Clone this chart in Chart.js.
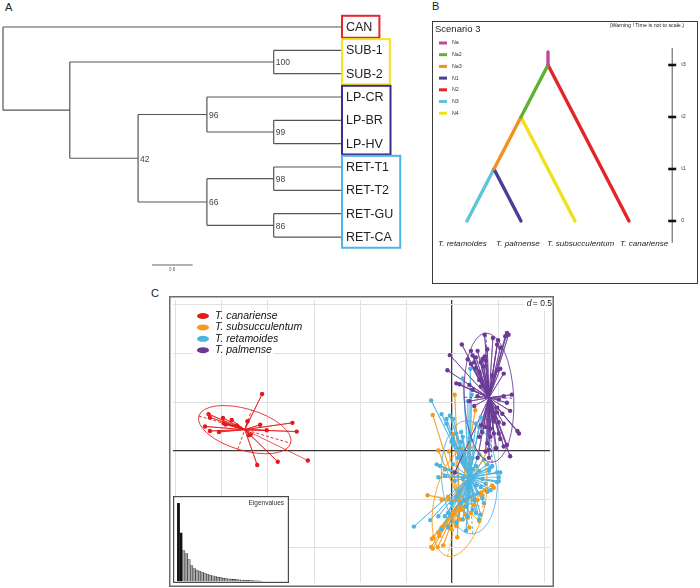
<!DOCTYPE html>
<html>
<head>
<meta charset="utf-8">
<title>Phylogeny, scenario 3 and DAPC</title>
<script src="https://cdn.jsdelivr.net/npm/chart.js@4.4.1/dist/chart.umd.min.js"></script>
<style>
	html, body { margin: 0; padding: 0; background: #fff; }
	body { position: relative; width: 700px; height: 588px; overflow: hidden; font-family: "Liberation Sans", Arial, sans-serif; }
	canvas { position: absolute; }
	.panel { position: absolute; font-size: 11px; line-height: 11px; color: #222; }
	#boxB { position: absolute; left: 432px; top: 21px; width: 264px; height: 261px; border: 1.5px solid #3a3a3a; }
</style>
</head>
<body>
<div class="panel" style="left:5px;top:2px">A</div>
<div class="panel" style="left:432px;top:1px">B</div>
<div class="panel" style="left:151px;top:288px">C</div>
<div id="boxB"></div>
<canvas id="tree-chart" width="420" height="290" style="left:0;top:0"></canvas>
<canvas id="scenario-chart" width="280" height="290" style="left:420px;top:0"></canvas>
<canvas id="dapc-chart" width="385" height="291" style="left:169px;top:296px"></canvas>
<canvas id="eigen-chart" width="116" height="87" style="left:173px;top:496px"></canvas>
<script>
// ---- A: tree ----
const leafNames = ['CAN', 'SUB-1', 'SUB-2', 'LP-CR', 'LP-BR', 'LP-HV', 'RET-T1', 'RET-T2', 'RET-GU', 'RET-CA'];
const leafDepth = 6.65;
const nodeIds = ['root', 'n1', 'nSub', 'n42', 'n96', 'n99', 'n66', 'n98', 'n86'];
const nodeDepths = [0, 1.31, 5.31, 2.65, 4.0, 5.31, 4.0, 5.31, 5.31];
const nodeChildren = [
	['CAN', 'n1'], ['nSub', 'n42'], ['SUB-1', 'SUB-2'], ['n96', 'n66'], ['LP-CR', 'n99'],
	['LP-BR', 'LP-HV'], ['n98', 'n86'], ['RET-T1', 'RET-T2'], ['RET-GU', 'RET-CA'],
];
const nodeSupport = ['', '', '100', '42', '96', '99', '66', '98', '86'];
const groupFirst = [0, 1, 3, 6];
const groupLast = [0, 2, 5, 9];
const groupColors = ['#e8242b', '#f3e41b', '#3d2b8e', '#4ab6e8'];
const scaleBar = 0.8;

// ---- B: scenario 3 ----
const branchNames = ['Na', 'Na2', 'Na3', 'N1', 'N2', 'N3', 'N4'];
const branchColors = ['#c1489b', '#5db232', '#f3901f', '#4a3c98', '#e42427', '#5dc4d9', '#f1e11b'];
const branchStart = [[1.5, 3.25], [1.5, 3], [1, 2], [0.5, 1], [1.5, 3], [0.5, 1], [1, 2]];
const branchEnd = [[1.5, 3], [1, 2], [0.5, 1], [1, 0], [3, 0], [0, 0], [2, 0]];
const speciesNames = ['T. retamoides', 'T. palmense', 'T. subsucculentum', 'T. canariense'];
const timeTicks = [0, 1, 2, 3];
const timeLabels = ['0', 't1', 't2', 't3'];

// ---- C: DAPC ----
const dapcNames = ['T. canariense', 'T. subsucculentum', 'T. retamoides', 'T. palmense'];
const dapcColors = ['#e31a1c', '#f59a1b', '#4bb4e2', '#6a3a96'];
const canariensePts = [
	[-2.064, 0.583], [-2.646, 0.377], [-2.631, 0.343], [-2.489, 0.337], [-2.394, 0.317], [-2.482, 0.283],
	[-2.461, 0.27], [-2.34, 0.26], [-2.223, 0.303], [-2.085, 0.267], [-1.734, 0.287], [-2.684, 0.25],
	[-2.631, 0.203], [-2.532, 0.193], [-2.014, 0.21], [-1.688, 0.197], [-2.205, 0.16], [-2.188, 0.167],
	[-2.117, -0.147], [-1.894, -0.113], [-1.567, -0.1],
];
const subsucculentumPts = [
	[0.029, 0.577], [0.252, 0.417], [-0.21, 0.367], [-0.149, 0.003], [-0.035, -0.007], [0.018, 0.17],
	[0.394, 0.017], [0.436, -0.357], [-0.266, -0.457], [-0.114, -0.507], [-0.043, -0.473], [0.454, -0.38],
	[0.365, -0.407], [0.312, -0.44], [0.277, -0.507], [0.241, -0.557], [0.205, -0.64], [0.295, -0.723],
	[0.17, -0.69], [0.082, -0.707], [0.046, -0.773], [0.056, -0.89], [-0.007, -0.807], [-0.114, -0.79],
	[-0.149, -0.84], [-0.202, -0.89], [-0.22, -0.907], [-0.227, -0.99], [-0.21, -1.007], [-0.156, -0.99],
	[-0.096, -0.973], [0.135, -0.573], [0.099, -0.607], [0.029, -0.64], [-0.007, -0.673], [-0.138, -0.873],
	[-0.043, -0.773], [0.188, -0.79], [0.152, -0.657], [0.33, -0.46],
];
const retamoidesPts = [
	[-0.227, 0.517], [-0.114, 0.377], [-0.061, 0.277], [-0.024, 0.36], [0.011, 0.327], [0.117, 0.743],
	[0.199, 0.843], [0.213, 0.577], [0.17, 0.51], [0.312, 0.343], [0.046, 0.177], [0.011, 0.127],
	[0.099, 0.093], [0.082, 0.027], [-0.167, -0.14], [-0.131, -0.157], [-0.078, -0.19], [-0.078, -0.257],
	[0.029, -0.307], [0.117, -0.29], [0.223, -0.19], [0.259, -0.157], [0.295, -0.207], [0.383, -0.14],
	[0.418, -0.173], [0.489, -0.223], [0.524, -0.223], [0.507, -0.313], [0.489, -0.323], [0.365, -0.34],
	[0.312, -0.373], [0.277, -0.44], [0.241, -0.507], [0.188, -0.473], [0.135, -0.507], [0.099, -0.54],
	[0.152, -0.573], [0.223, -0.607], [0.259, -0.64], [0.295, -0.707], [0.17, -0.673], [0.117, -0.707],
	[-0.043, -0.64], [-0.078, -0.673], [-0.149, -0.673], [-0.237, -0.713], [-0.415, -0.78], [-0.114, -0.807],
	[-0.043, -0.79], [0.046, -0.74], [0.152, -0.823], [0.33, -0.49], [0.348, -0.54], [0.383, -0.423],
	[0.418, -0.407], [0.33, -0.29], [0.259, -0.357], [0.188, -0.373], [0.082, -0.423], [0.046, -0.473],
	[-0.007, -0.54], [-0.149, -0.273], [0.011, -0.14], [0.064, -0.073], [0.135, -0.023], [0.223, -0.073],
	[0.295, -0.04], [0.348, -0.09], [0.312, -0.657], [-0.061, 0.327], [0.099, 0.193], [0.117, 0.143],
	[0.205, 0.11], [0.259, 0.277], [0.295, 0.243], [-0.007, 0.093], [0.011, 0.06], [0.401, -0.207],
	[0.436, -0.157], [0.507, -0.273],
];
const palmensePts = [
	[0.596, 1.21], [0.614, 1.193], [0.578, 1.177], [0.354, 1.193], [0.444, 1.16], [0.5, 1.137],
	[0.106, 1.093], [0.205, 1.027], [0.277, 1.027], [0.33, 0.943], [0.205, 0.893], [0.241, 0.91],
	[0.365, 0.927], [-0.024, 0.983], [-0.05, 0.827], [0.046, 0.693], [0.082, 0.683], [0.489, 0.827],
	[0.524, 0.843], [0.561, 0.793], [0.188, 0.677], [0.312, 0.66], [0.295, 0.727], [0.436, 0.777],
	[0.259, 0.96], [0.312, 0.91], [0.354, 0.97], [0.489, 1.093], [0.524, 1.06], [0.383, 1.043],
	[0.649, 0.577], [0.561, 0.56], [0.507, 0.527], [0.596, 0.493], [0.631, 0.41], [0.489, 0.393],
	[0.546, 0.38], [0.454, 0.3], [0.507, 0.293], [0.561, 0.277], [0.71, 0.203], [0.727, 0.177],
	[0.524, 0.12], [0.482, 0.027], [0.596, 0.06], [0.401, 0.01], [0.631, -0.057], [0.454, 0.177],
	[0.418, 0.227], [0.365, 0.243], [0.312, 0.26], [0.33, 0.193], [0.295, 0.143], [0.241, 0.46],
	[0.188, 0.51], [0.277, 0.56], [0.223, 0.627], [0.365, -0.007], [0.401, -0.073], [0.277, -0.073],
	[0.029, -0.223], [0.223, 0.98], [0.255, 0.85], [0.298, 0.81], [0.34, 0.87], [0.17, 0.94],
	[0.489, 0.443], [0.454, 0.343], [0.561, 0.043], [0.507, 0.177], [0.418, 0.143], [0.383, 0.077],
	[0.471, 0.027],
];
const dapcPoints = [canariensePts, subsucculentumPts, retamoidesPts, palmensePts];
const dapcCentroids = [[-2.252, 0.217], [0.082, -0.523], [0.188, -0.273], [0.401, 0.545]];
const dapcMajorEnds = [[-1.753, 0.077], [0.213, 0.04], [0.152, 0.31], [0.367, 1.21]];
const dapcMinorEnds = [[-2.177, 0.418], [-0.188, -0.468], [0.489, -0.31], [0.67, 0.54]];
const xGrid = [-3, -2.5, -2, -1.5, -1, -0.5, 0, 0.5, 1];
const yGrid = [-1, -0.5, 0, 0.5, 1, 1.5];
const eigenValues = [79, 49, 31, 28, 22, 16, 13, 11.5, 10.5, 9.5, 8.5, 7.5, 6.5, 5.8, 5, 4.4,
	3.9, 3.4, 3, 2.7, 2.4, 2.1, 1.9, 1.7, 1.5, 1.3, 1.15, 1.0, 0.85, 0.7, 0.55, 0.4];

const FONT = '"Liberation Sans", Arial, sans-serif';

function rgba(hex, a) {
	const n = parseInt(hex.slice(1), 16);
	return 'rgba(' + (n >> 16) + ',' + ((n >> 8) & 255) + ',' + (n & 255) + ',' + a + ')';
}

const baseOptions = {
	responsive: false,
	animation: false,
	devicePixelRatio: 1,
	events: [],
	layout: { padding: 0 },
	plugins: { legend: { display: false }, tooltip: { enabled: false } },
};

// ---------- A ----------
function isLeaf(id) { return leafNames.includes(id); }
function nodeY(id) {
	if (isLeaf(id)) return leafNames.indexOf(id);
	const kids = nodeChildren[nodeIds.indexOf(id)];
	return (nodeY(kids[0]) + nodeY(kids[kids.length - 1])) / 2;
}
function nodeX(id) { return isLeaf(id) ? leafDepth : nodeDepths[nodeIds.indexOf(id)]; }

const branchPoints = [];
nodeIds.forEach((id, i) => {
	const kids = nodeChildren[i];
	const x = nodeDepths[i];
	branchPoints.push({ x, y: nodeY(kids[0]) }, { x, y: nodeY(kids[kids.length - 1]) }, { x, y: null });
	kids.forEach(k => branchPoints.push({ x, y: nodeY(k) }, { x: nodeX(k), y: nodeY(k) }, { x, y: null }));
});

const treeLabels = {
	id: 'treeLabels',
	afterDatasetsDraw(chart) {
		const { ctx, scales: { x, y } } = chart;
		ctx.save();
		ctx.font = '12.5px ' + FONT;
		ctx.fillStyle = '#222';
		ctx.textAlign = 'left';
		ctx.textBaseline = 'middle';
		const lx = x.getPixelForValue(leafDepth);
		leafNames.forEach((n, i) => ctx.fillText(n, lx + 4, y.getPixelForValue(i) + 0.5));
		groupFirst.forEach((f, g) => {
			const w = Math.max(...leafNames.slice(f, groupLast[g] + 1).map(n => ctx.measureText(n).width));
			const top = y.getPixelForValue(f - 0.48);
			const bottom = y.getPixelForValue(groupLast[g] + 0.46);
			ctx.strokeStyle = groupColors[g];
			ctx.lineWidth = 2;
			ctx.strokeRect(lx, top, w + 11, bottom - top);
		});
		ctx.font = '8.5px ' + FONT;
		ctx.fillStyle = '#444';
		nodeIds.forEach((id, i) => {
			if (!nodeSupport[i]) return;
			ctx.fillText(nodeSupport[i], x.getPixelForValue(nodeDepths[i]) + 2, y.getPixelForValue(nodeY(id)) + 1);
		});
		ctx.font = '4.5px ' + FONT;
		ctx.textAlign = 'center';
		ctx.fillStyle = '#666';
		ctx.fillText(String(scaleBar), x.getPixelForValue(2.92 + scaleBar / 2), y.getPixelForValue(10.2) + 5);
		ctx.restore();
	}
};

new Chart(document.getElementById('tree-chart'), {
	type: 'line',
	data: {
		datasets: [
			{
				data: branchPoints,
				borderColor: '#555',
				borderWidth: 1.2,
				pointRadius: 0,
				spanGaps: false,
			},
			{
				data: [{ x: 2.92, y: 10.2 }, { x: 2.92 + scaleBar, y: 10.2 }],
				borderColor: '#999',
				borderWidth: 1.5,
				pointRadius: 0,
			},
		]
	},
	options: {
		...baseOptions,
		scales: {
			x: { type: 'linear', display: false, min: -0.0589, max: 8.18 },
			y: { type: 'linear', display: false, reverse: true, min: -1.157, max: 11.27 },
		}
	},
	plugins: [treeLabels]
});

// ---------- B ----------
const scenarioDecor = {
	id: 'scenarioDecor',
	afterDatasetsDraw(chart) {
		const { ctx, scales: { x, y } } = chart;
		ctx.save();
		ctx.fillStyle = '#222';
		ctx.textBaseline = 'middle';
		ctx.font = '9.5px ' + FONT;
		ctx.fillText('Scenario 3', 15, 29);
		ctx.font = '5.3px ' + FONT;
		ctx.textAlign = 'right';
		ctx.fillText('(Warning ! Time is not to scale.)', 264, 26);
		ctx.textAlign = 'left';
		branchNames.forEach((n, i) => {
			const yy = 43 + 11.7 * i;
			ctx.fillStyle = branchColors[i];
			ctx.fillRect(19, yy - 1.5, 8, 3);
			ctx.fillStyle = '#333';
			ctx.fillText(n, 32, yy);
		});
		// time axis
		const ax = x.getPixelForValue(3.8);
		ctx.strokeStyle = '#555';
		ctx.lineWidth = 1;
		ctx.beginPath();
		ctx.moveTo(ax, y.getPixelForValue(3.33));
		ctx.lineTo(ax, y.getPixelForValue(-0.42));
		ctx.stroke();
		timeTicks.forEach((t, i) => {
			const ty = y.getPixelForValue(t);
			ctx.fillStyle = '#111';
			ctx.fillRect(ax - 4, ty - 1.3, 8, 2.6);
			ctx.fillStyle = '#333';
			ctx.fillText(timeLabels[i], ax + 9, ty);
		});
		ctx.font = 'italic 8.1px ' + FONT;
		ctx.fillStyle = '#222';
		ctx.textAlign = 'left';
		const shift = [-29, -25, -28, -9];
		speciesNames.forEach((n, i) => ctx.fillText(n, x.getPixelForValue(i) + shift[i], y.getPixelForValue(-0.44)));
		ctx.restore();
	}
};

new Chart(document.getElementById('scenario-chart'), {
	type: 'line',
	data: {
		datasets: branchNames.map((n, i) => ({
			label: n,
			data: [{ x: branchStart[i][0], y: branchStart[i][1] }, { x: branchEnd[i][0], y: branchEnd[i][1] }],
			borderColor: branchColors[i],
			borderWidth: 3.4,
			borderCapStyle: 'round',
			pointRadius: 0,
		}))
	},
	options: {
		...baseOptions,
		scales: {
			x: { type: 'linear', display: false, min: -0.87, max: 4.315 },
			y: { type: 'linear', display: false, min: -1.327, max: 4.25 },
		}
	},
	plugins: [scenarioDecor]
});

// ---------- C ----------
const dapcDecor = {
	id: 'dapcDecor',
	afterDatasetsDraw(chart) {
		const { ctx, scales: { x, y }, width, height } = chart;
		ctx.save();
		// ellipses
		dapcCentroids.forEach((c, g) => {
			const cx = x.getPixelForValue(c[0]), cy = y.getPixelForValue(c[1]);
			const mx = x.getPixelForValue(dapcMajorEnds[g][0]) - cx, my = y.getPixelForValue(dapcMajorEnds[g][1]) - cy;
			const nx = x.getPixelForValue(dapcMinorEnds[g][0]) - cx, ny = y.getPixelForValue(dapcMinorEnds[g][1]) - cy;
			ctx.strokeStyle = rgba(dapcColors[g], 0.85);
			ctx.lineWidth = 1;
			ctx.beginPath();
			ctx.ellipse(cx, cy, Math.hypot(mx, my), Math.hypot(nx, ny), Math.atan2(my, mx), 0, Math.PI * 2);
			ctx.stroke();
		});
		// legend
		ctx.font = 'italic 10.5px ' + FONT;
		ctx.textBaseline = 'middle';
		dapcNames.forEach((n, i) => {
			const yy = 20 + 11.4 * i;
			const w = ctx.measureText(n).width;
			ctx.fillStyle = '#fff';
			ctx.fillRect(24, yy - 5.5, 24 + w, 11);
			ctx.fillStyle = dapcColors[i];
			ctx.beginPath();
			ctx.ellipse(34, yy, 6, 3, 0, 0, Math.PI * 2);
			ctx.fill();
			ctx.fillStyle = '#111';
			ctx.fillText(n, 46, yy);
		});
		// d = 0.5
		ctx.fillStyle = '#fff';
		ctx.fillRect(355, 2, 28, 12);
		ctx.fillStyle = '#222';
		ctx.textAlign = 'right';
		ctx.font = '8.5px ' + FONT;
		ctx.fillText('= 0.5', 383, 8);
		const ew = ctx.measureText('= 0.5').width;
		ctx.font = 'italic 8.5px ' + FONT;
		ctx.fillText('d', 381.5 - ew, 8);
		// frame
		ctx.strokeStyle = '#6d6d6d';
		ctx.lineWidth = 1.5;
		ctx.strokeRect(0.75, 0.75, width - 1.5, height - 1.5);
		ctx.restore();
	}
};

const dapcDatasets = [];
[3, 2, 1, 0].forEach(g => dapcDatasets.push({
	data: dapcPoints[g].map(p => ({ x: p[0], y: p[1] })),
	showLine: false,
	pointRadius: 2.2,
	pointBackgroundColor: dapcColors[g],
	pointBorderWidth: 0,
}));
[3, 2, 1, 0].forEach(g => {
	const c = dapcCentroids[g];
	const mj = [dapcMajorEnds[g][0] - c[0], dapcMajorEnds[g][1] - c[1]];
	const mn = [dapcMinorEnds[g][0] - c[0], dapcMinorEnds[g][1] - c[1]];
	dapcDatasets.push({
		data: [
			{ x: c[0] - mj[0], y: c[1] - mj[1] }, { x: c[0] + mj[0], y: c[1] + mj[1] }, { x: c[0], y: null },
			{ x: c[0] - mn[0], y: c[1] - mn[1] }, { x: c[0] + mn[0], y: c[1] + mn[1] },
		],
		borderColor: rgba(dapcColors[g], 0.9),
		borderWidth: 1,
		borderDash: [3, 2],
		pointRadius: 0,
	});
});
[3, 2, 1, 0].forEach(g => {
	const c = { x: dapcCentroids[g][0], y: dapcCentroids[g][1] };
	dapcDatasets.push({
		data: dapcPoints[g].flatMap(p => [c, { x: p[0], y: p[1] }]),
		borderColor: rgba(dapcColors[g], 0.8),
		borderWidth: 0.9,
		pointRadius: 0,
	});
});

const dapcGrid = (vals) => ({
	type: 'linear',
	ticks: { display: false },
	border: { display: false },
	grid: {
		drawTicks: false,
		color: c => c.tick.value === 0 ? '#3a3a3a' : '#e0e0e0',
		lineWidth: c => c.tick.value === 0 ? 1.3 : 1,
	},
	afterBuildTicks: scale => { scale.ticks = vals.map(v => ({ value: v })); },
});

new Chart(document.getElementById('dapc-chart'), {
	type: 'line',
	data: { datasets: dapcDatasets },
	options: {
		...baseOptions,
		scales: {
			x: { ...dapcGrid(xGrid), min: -3.032, max: 1.064 },
			y: { ...dapcGrid(yGrid), min: -1.36, max: 1.55 },
		}
	},
	plugins: [dapcDecor]
});

// ---------- eigenvalues inset ----------
const eigenFrame = {
	id: 'eigenFrame',
	beforeDraw(chart) {
		const { ctx, width, height } = chart;
		ctx.save();
		ctx.fillStyle = '#fff';
		ctx.fillRect(0, 0, width, height);
		ctx.restore();
	},
	afterDraw(chart) {
		const { ctx, width, height } = chart;
		ctx.save();
		ctx.strokeStyle = '#4a4a4a';
		ctx.lineWidth = 1.2;
		ctx.strokeRect(0.6, 0.6, width - 1.2, height - 1.2);
		ctx.font = '6.5px ' + FONT;
		ctx.fillStyle = '#333';
		ctx.textAlign = 'right';
		ctx.textBaseline = 'middle';
		ctx.fillText('Eigenvalues', width - 5, 7);
		ctx.restore();
	}
};

new Chart(document.getElementById('eigen-chart'), {
	type: 'bar',
	data: {
		labels: eigenValues.map((v, i) => String(i + 1)),
		datasets: [{
			data: eigenValues,
			backgroundColor: eigenValues.map((v, i) => i < 2 ? '#111' : '#a8a8a8'),
			borderColor: '#333',
			borderWidth: 0.6,
			barPercentage: 1,
			categoryPercentage: 1,
		}]
	},
	options: {
		...baseOptions,
		layout: { padding: { left: 4, right: 27, top: 7, bottom: 1.5 } },
		scales: {
			x: { display: false },
			y: { display: false, min: 0, max: 79 },
		}
	},
	plugins: [eigenFrame]
});
</script>
</body>
</html>
